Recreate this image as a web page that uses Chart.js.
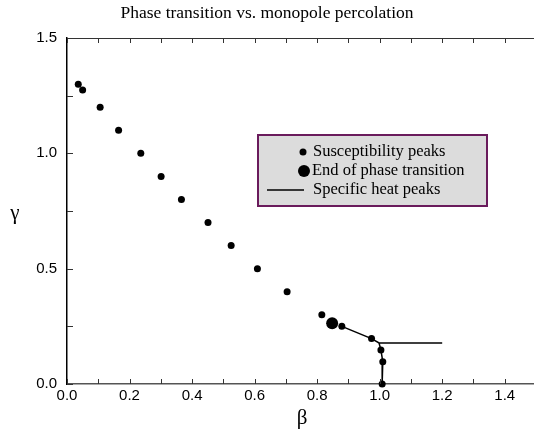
<!DOCTYPE html>
<html>
<head>
<meta charset="utf-8">
<script src="https://cdn.jsdelivr.net/npm/chart.js@4.4.1/dist/chart.umd.min.js"></script>
<style>
html,body{margin:0;padding:0;background:#fff;}
#wrap{width:534px;height:432px;}
</style>
</head>
<body>
<div id="wrap"><canvas id="c" width="534" height="432"></canvas></div>
<script>
// Susceptibility peaks (beta, gamma)
const suscBeta  = [0.036, 0.050, 0.106, 0.165, 0.236, 0.301, 0.366, 0.451, 0.525, 0.609, 0.704, 0.815, 0.879, 0.974, 1.004, 1.010, 1.008];
const suscGamma = [1.30, 1.275, 1.20, 1.10, 1.00, 0.90, 0.80, 0.70, 0.60, 0.50, 0.40, 0.30, 0.25, 0.197, 0.147, 0.097, 0.0];
// End of phase transition
const endBeta  = [0.848];
const endGamma = [0.263];
// Specific heat peaks line (path)
const heatBeta  = [0.879, 0.974, 0.998, 1.20, 0.998, 1.004, 1.010, 1.008];
const heatGamma = [0.25, 0.197, 0.178, 0.178, 0.178, 0.147, 0.097, 0.0];

const titleText = "Phase transition vs. monopole percolation";
const legendLabels = ["Susceptibility peaks", "End of phase transition", "Specific heat peaks"];

function pts(xs, ys){ return xs.map((x,i)=>({x:x, y:ys[i]})); }

// plot frame extends slightly past the right canvas edge, as in the reference
const areaPlugin = {
  id: 'areaRight',
  afterLayout(chart){
    const x = chart.scales.x, a = chart.chartArea;
    const R = 536;
    x.right = R; x.width = R - x.left; x.configure();
    a.right = R; a.width = R - a.left;
  }
};

const tickPlugin = {
  id: 'innerTicks',
  afterDraw(chart){
    const ctx = chart.ctx, a = chart.chartArea;
    const xs = chart.scales.x, ys = chart.scales.y;
    ctx.save();
    ctx.strokeStyle = '#333';
    ctx.lineWidth = 1;
    // top border
    ctx.beginPath();
    ctx.moveTo(a.left, a.top + 0.5); ctx.lineTo(a.right, a.top + 0.5);
    ctx.stroke();
    ctx.beginPath();
    xs.ticks.forEach(t => {
      const p = Math.round(xs.getPixelForValue(t.value)) + 0.5;
      ctx.moveTo(p, a.bottom); ctx.lineTo(p, a.bottom - 5);
      ctx.moveTo(p, a.top); ctx.lineTo(p, a.top + 5);
    });
    ys.ticks.forEach(t => {
      const p = Math.round(ys.getPixelForValue(t.value)) + 0.5;
      ctx.moveTo(a.left, p); ctx.lineTo(a.left + 6, p);
    });
    ctx.stroke();
    // axis titles
    ctx.fillStyle = '#000';
    ctx.font = '21px "Liberation Serif", serif';
    ctx.textAlign = 'center';
    ctx.textBaseline = 'middle';
    ctx.fillText('\u03B3', 15, 213);
    ctx.fillText('\u03B2', 302, 418);
    // legend box
    const lx = 257, ly = 134, lw = 231, lh = 73;
    ctx.fillStyle = '#dcdcdc';
    ctx.fillRect(lx, ly, lw, lh);
    ctx.strokeStyle = '#6a1b5c';
    ctx.lineWidth = 2;
    ctx.strokeRect(lx + 1, ly + 1, lw - 2, lh - 2);
    ctx.font = '16.5px "Liberation Serif", serif';
    ctx.textAlign = 'left';
    ctx.fillStyle = '#000';
    const rows = [152, 171, 190];
    ctx.beginPath(); ctx.arc(303, rows[0], 3.5, 0, Math.PI*2); ctx.fill();
    ctx.beginPath(); ctx.arc(304, rows[1], 6, 0, Math.PI*2); ctx.fill();
    ctx.lineWidth = 1.5; ctx.strokeStyle = '#000';
    ctx.beginPath(); ctx.moveTo(267, rows[2]); ctx.lineTo(304, rows[2]); ctx.stroke();
    ctx.fillText(legendLabels[0], 313, rows[0]);
    ctx.fillText(legendLabels[1], 312, rows[1]);
    ctx.fillText(legendLabels[2], 313, rows[2]);
    ctx.restore();
  }
};

new Chart(document.getElementById('c'), {
  type: 'scatter',
  data: {
    datasets: [
      { label: legendLabels[2], data: pts(heatBeta, heatGamma), showLine: true, borderColor: '#000', borderWidth: 1.5, pointRadius: 0, tension: 0, order: 3, clip: false },
      { label: legendLabels[0], data: pts(suscBeta, suscGamma), backgroundColor: '#000', borderColor: '#000', pointRadius: 3.5, borderWidth: 0, order: 1, clip: false },
      { label: legendLabels[1], data: pts(endBeta, endGamma), backgroundColor: '#000', borderColor: '#000', pointRadius: 6, borderWidth: 0, order: 2, clip: false }
    ]
  },
  options: {
    responsive: false,
    animation: false,
    events: [],
    layout: { padding: 0 },
    plugins: {
      legend: { display: false },
      tooltip: { enabled: false },
      title: {
        display: true, text: titleText, color: '#000',
        font: { family: '"Liberation Serif", serif', size: 17.5, weight: 'normal' },
        padding: { top: 3, bottom: 14 }
      }
    },
    scales: {
      x: {
        type: 'linear', min: 0, max: 1.5,
        afterFit(s){ s.height = 48; },
        grid: { drawOnChartArea: false, drawTicks: false, color: '#333' },
        border: { display: true, color: '#555', width: 1.5 },
        ticks: {
          stepSize: 0.1, padding: 3, color: '#000', autoSkip: false, maxRotation: 0,
          font: { family: '"Liberation Sans", Arial, sans-serif', size: 15 },
          callback(v){ const k = Math.round(v*10); return (k % 2 === 0 && k < 15) ? (v).toFixed(1) : ''; }
        }
      },
      y: {
        type: 'linear', min: 0, max: 1.5,
        afterFit(s){ s.width = 67; },
        grid: { drawOnChartArea: false, drawTicks: false, color: '#333' },
        border: { display: true, color: '#000', width: 1.5 },
        ticks: {
          stepSize: 0.25, padding: 10, color: '#000', autoSkip: false,
          font: { family: '"Liberation Sans", Arial, sans-serif', size: 15 },
          callback(v){ const k = Math.round(v*4); return (k % 2 === 0) ? (v).toFixed(1) : ''; }
        }
      }
    }
  },
  plugins: [areaPlugin, tickPlugin]
});
</script>
</body>
</html>
